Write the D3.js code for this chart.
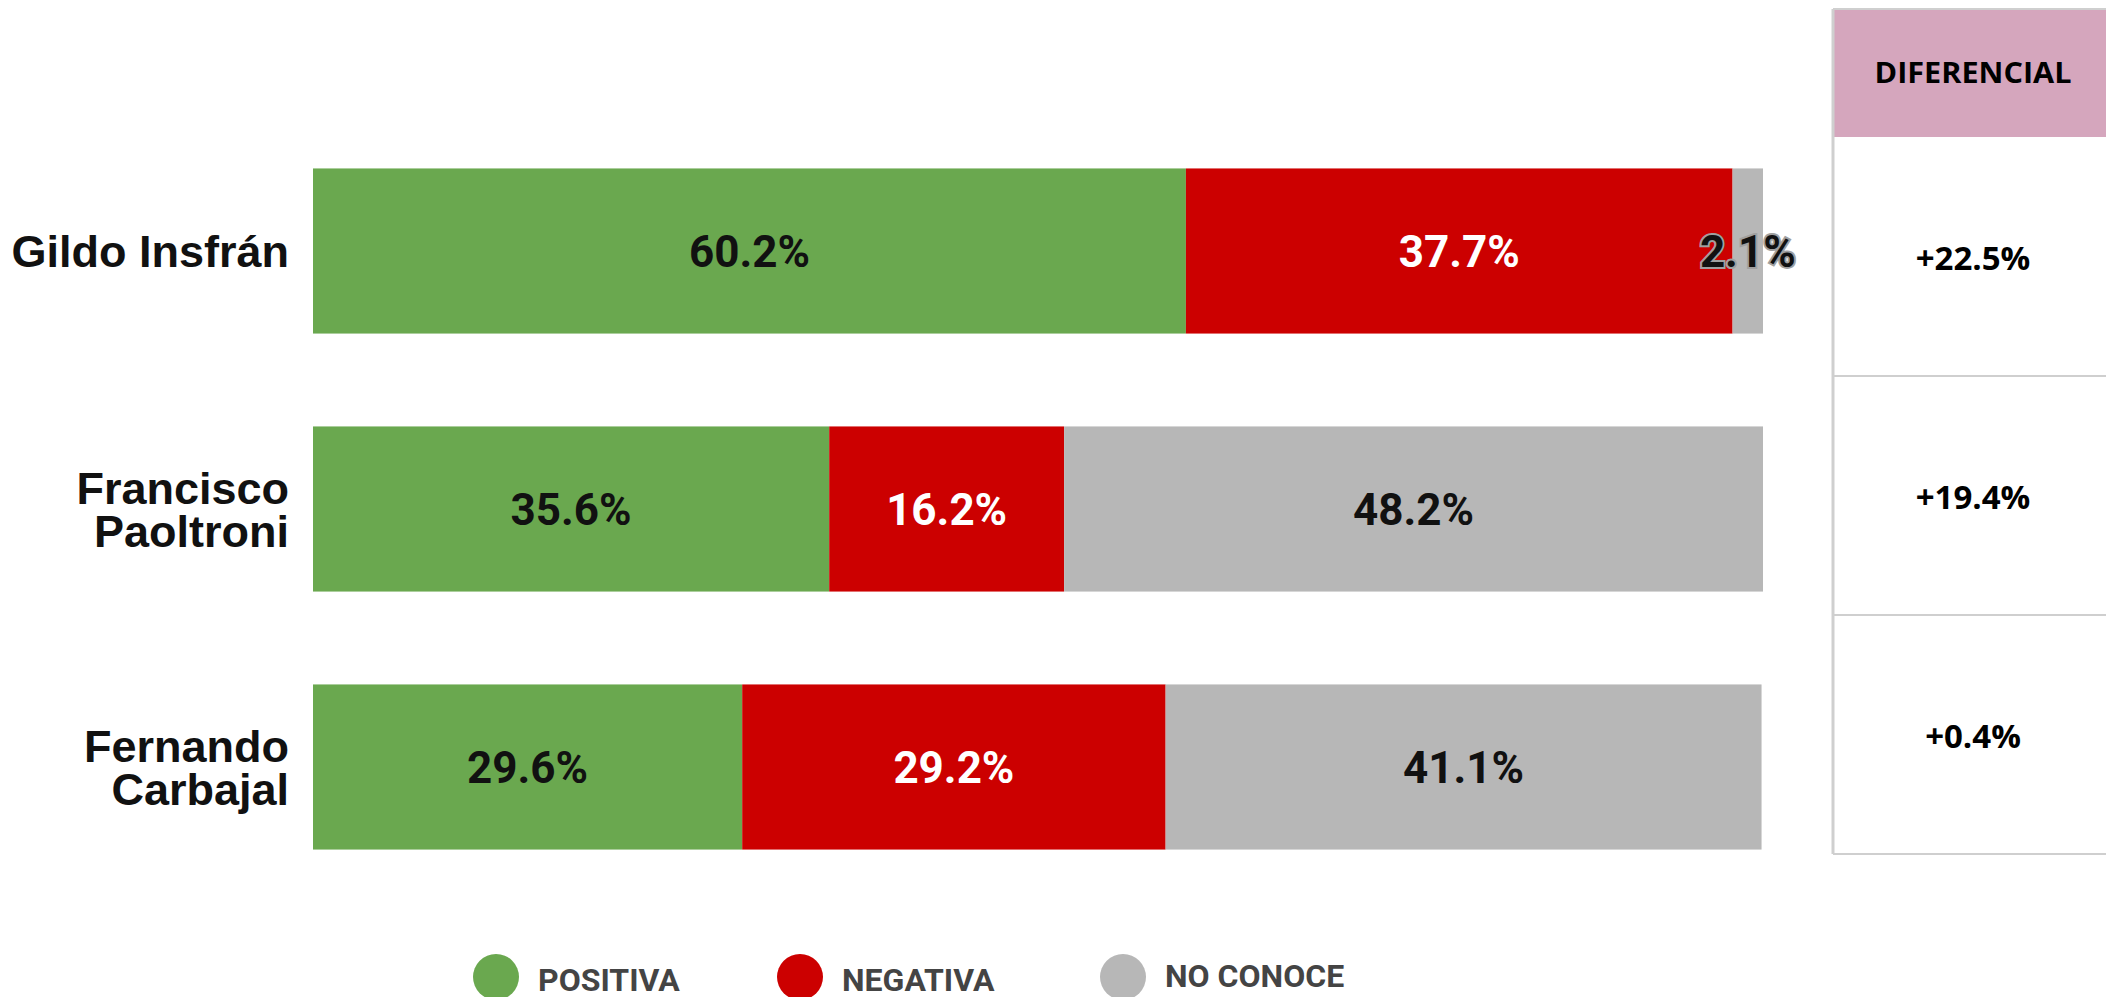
<!DOCTYPE html>
<html>
<head>
<meta charset="utf-8">
<script src="https://cdnjs.cloudflare.com/ajax/libs/d3/7.8.5/d3.min.js"></script>
<style>
  body { margin: 0; background: #fff; }
  svg { display: block; }
</style>
</head>
<body>
<div id="chart"></div>
<script>
// data
var candidates = ["Gildo Insfrán", "Francisco Paoltroni", "Fernando Carbajal"];
var nameLines = [["Gildo Insfrán"], ["Francisco", "Paoltroni"], ["Fernando", "Carbajal"]];
var positiva = [60.2, 35.6, 29.6];
var negativa = [37.7, 16.2, 29.2];
var noConoce = [2.1, 48.2, 41.1];
var diferencial = ["+22.5%", "+19.4%", "+0.4%"];
var seriesNames = ["POSITIVA", "NEGATIVA", "NO CONOCE"];
var seriesColors = ["#6aa84f", "#cc0000", "#b7b7b7"];
var labelColors = ["#111", "#fff", "#111"];

var width = 2106;
var height = 997;

var svg = d3.select('#chart')
    .append('svg')
    .attr('width', width)
    .attr('height', height);

// scales
var x = d3.scaleLinear()
    .domain([0, 100])
    .range([313, 1763]);
var y = d3.scaleBand()
    .domain(candidates)
    .range([122, 896])
    .paddingInner(0.36)
    .paddingOuter(0.18);

var rows = candidates.map(function (c, i) {
    return { name: c, lines: nameLines[i], vals: [positiva[i], negativa[i], noConoce[i]] };
});

var stack = d3.stack().keys([0, 1, 2]).value(function (d, k) { return d.vals[k]; });
var layers = stack(rows);

// bars
var barg = svg.append('g');
layers.forEach(function (layer, k) {
    barg.selectAll('rect.s' + k)
        .data(layer)
        .enter()
        .append('rect')
        .attr('class', 's' + k)
        .attr('x', d => x(d[0]))
        .attr('y', d => y(d.data.name))
        .attr('width', d => x(d[1]) - x(d[0]))
        .attr('height', y.bandwidth())
        .attr('fill', seriesColors[k]);
});

// value labels
layers.forEach(function (layer, k) {
    barg.selectAll('text.l' + k)
        .data(layer)
        .enter()
        .append('text')
        .attr('class', 'l' + k)
        .attr('x', d => (x(d[0]) + x(d[1])) / 2)
        .attr('y', d => y(d.data.name) + y.bandwidth() / 2)
        .attr('dy', '0.36em')
        .attr('text-anchor', 'middle')
        .attr('font-family', 'Roboto, sans-serif')
        .attr('font-weight', 'bold')
        .attr('font-size', 44)
        .attr('fill', labelColors[k])
        .attr('stroke', d => (d[1] - d[0]) < 5 ? '#a0a0a0' : 'none')
        .attr('stroke-width', 4)
        .attr('paint-order', 'stroke')
        .text(d => (d[1] - d[0]).toFixed(1) + '%');
});

// category labels, one text per line
var catg = svg.append('g');
rows.forEach(function (r) {
    var cy = y(r.name) + y.bandwidth() / 2;
    var n = r.lines.length;
    r.lines.forEach(function (ln, j) {
        catg.append('text')
            .attr('x', 289)
            .attr('y', cy + (j - (n - 1) / 2) * 43)
            .attr('dy', '0.36em')
            .attr('text-anchor', 'end')
            .attr('font-family', '"Liberation Sans", Arial, sans-serif')
            .attr('font-weight', 'bold')
            .attr('font-size', 45)
            .attr('fill', '#111')
            .text(ln);
    });
});

// differential table
var tx0 = 1833, tx1 = 2118, tcx = 1973;
var ty = d3.scaleBand()
    .domain(candidates)
    .range([137, 854]);
var tg = svg.append('g');
tg.append('rect')
    .attr('x', tx0).attr('y', 9)
    .attr('width', tx1 - tx0).attr('height', 128)
    .attr('fill', '#d5a6bd');
tg.append('text')
    .attr('x', tcx).attr('y', 73).attr('dy', '0.36em')
    .attr('text-anchor', 'middle')
    .attr('font-family', '"Open Sans", sans-serif')
    .attr('font-weight', 'bold')
    .attr('font-size', 28)
    .attr('textLength', 197)
    .attr('lengthAdjust', 'spacingAndGlyphs')
    .attr('fill', '#000')
    .text('DIFERENCIAL');
tg.selectAll('text.dif')
    .data(candidates)
    .enter()
    .append('text')
    .attr('class', 'dif')
    .attr('x', tcx)
    .attr('y', d => ty(d) + ty.bandwidth() / 2 + 2)
    .attr('dy', '0.36em')
    .attr('text-anchor', 'middle')
    .attr('font-family', '"Open Sans", sans-serif')
    .attr('font-weight', 'bold')
    .attr('font-size', 33)
    .attr('fill', '#000')
    .text((d, i) => diferencial[i]);
// grid lines
tg.selectAll('line.h')
    .data([9].concat(candidates.map(d => ty(d) + ty.bandwidth())))
    .enter()
    .append('line')
    .attr('x1', tx0).attr('x2', tx1)
    .attr('y1', d => d).attr('y2', d => d)
    .attr('stroke', '#cfcfcf')
    .attr('stroke-width', 2);
tg.append('line')
    .attr('x1', tx0).attr('x2', tx0)
    .attr('y1', 9).attr('y2', 854)
    .attr('stroke', '#cfcfcf')
    .attr('stroke-width', 3);

// legend
var legX = [496, 800, 1123];
var legg = svg.append('g');
seriesNames.forEach(function (s, k) {
    legg.append('circle')
        .attr('cx', legX[k])
        .attr('cy', 977)
        .attr('r', 23)
        .attr('fill', seriesColors[k]);
    legg.append('text')
        .attr('x', legX[k] + 42)
        .attr('y', k == 2 ? 987 : 991)
        .attr('font-family', 'Roboto, sans-serif')
        .attr('font-weight', 'bold')
        .attr('font-size', 32)
        .attr('fill', '#444')
        .text(s);
});
</script>
</body>
</html>
